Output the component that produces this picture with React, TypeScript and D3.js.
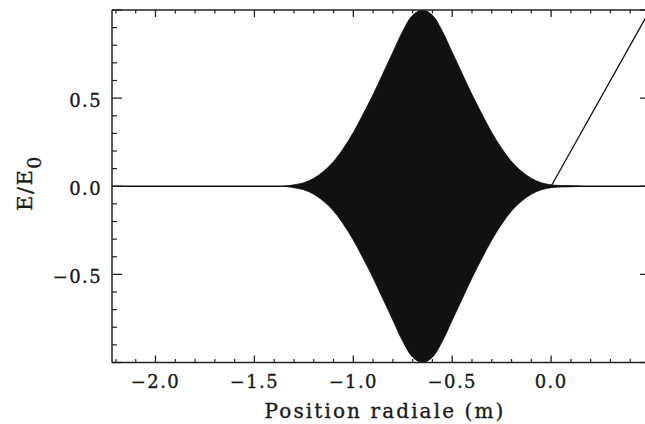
import React from "react";
import * as d3 from "d3";

// Envelope of the oscillating field (amplitude |E/E0|)
const envX = [-1.35, -1.30, -1.25, -1.20, -1.15, -1.10, -1.05, -1.00, -0.95, -0.90, -0.85, -0.80, -0.75, -0.70, -0.65, -0.60, -0.55, -0.50, -0.45, -0.40, -0.35, -0.30, -0.25, -0.20, -0.15, -0.10, -0.05, 0.00, 0.05, 0.10, 0.15];
const envA = [0.0, 0.008, 0.02, 0.045, 0.085, 0.14, 0.215, 0.305, 0.41, 0.52, 0.64, 0.76, 0.88, 0.97, 1.0, 0.97, 0.88, 0.76, 0.64, 0.52, 0.41, 0.305, 0.215, 0.14, 0.085, 0.045, 0.02, 0.008, 0.004, 0.003, 0.0];

// Zero baseline of the signal
const baseX = [-2.22, 0.5];
const baseY = [0.0, 0.0];

// Straight ramp line
const rampX = [0.0, 0.5];
const rampY = [0.0, 1.0];

const xMajor = [-2.0, -1.5, -1.0, -0.5, 0.0, 0.5];
const xLabels = ["\u22122.0", "\u22121.5", "\u22121.0", "\u22120.5", "0.0", ""];
const yMajor = [-1.0, -0.5, 0.0, 0.5, 1.0];
const yLabels = ["", "\u22120.5", "0.0", "0.5", ""];

const W = 645;
const H = 424;
const L = 112, R = 650, T = 10, B = 362.5;

export default function App() {
  const x = d3.scaleLinear().domain([-2.22, 0.5]).range([L, R]);
  const y = d3.scaleLinear().domain([-1, 1]).range([B, T]);

  const xMinor = d3.range(-22, 6).map((v) => v / 10).filter((v) => !xMajor.some((m) => Math.abs(m - v) < 1e-6));
  const yMinor = d3.range(-10, 11).map((v) => v / 10).filter((v) => !yMajor.some((m) => Math.abs(m - v) < 1e-6));

  const envData = envX.map((v, i) => ({ x: v, a: envA[i] }));
  const area = d3
    .area<{ x: number; a: number }>()
    .x((d) => x(d.x))
    .y0((d) => y(-d.a))
    .y1((d) => y(d.a))
    .curve(d3.curveCatmullRom.alpha(0.5));

  const line = d3
    .line<[number, number]>()
    .x((d) => x(d[0]))
    .y((d) => y(d[1]));

  const base: [number, number][] = baseX.map((v, i) => [v, baseY[i]]);
  const ramp: [number, number][] = rampX.map((v, i) => [v, rampY[i]]);

  const axisColor = "#222";
  const font = "'DejaVu Serif', serif";
  const textProps = { fontFamily: font, fill: "#1a1a1a", stroke: "#1a1a1a", strokeWidth: 0.35 };

  return (
    <svg
      width={W}
      height={H}
      style={{ position: "absolute", left: 0, top: 0, background: "#fff" }}
    >
      <defs>
        <clipPath id="plotclip">
          <rect x={L} y={T} width={R - L} height={B - T} />
        </clipPath>
      </defs>
      <g clipPath="url(#plotclip)">
        <path d={line(base) || ""} fill="none" stroke="#111" strokeWidth={1.6} />
        <path d={area(envData) || ""} fill="#111" stroke="#111" strokeWidth={0.8} />
        <path d={line(ramp) || ""} fill="none" stroke="#111" strokeWidth={1.3} />
      </g>

      {/* frame */}
      <line x1={L} x2={R} y1={T} y2={T} stroke={axisColor} strokeWidth={1.5} />
      <line x1={L} x2={R} y1={B} y2={B} stroke={axisColor} strokeWidth={1.5} />
      <line x1={L} x2={L} y1={T} y2={B} stroke={axisColor} strokeWidth={1.5} />
      <line x1={R} x2={R} y1={T} y2={B} stroke={axisColor} strokeWidth={1.5} />

      {/* x ticks bottom & top */}
      {xMajor.map((v) => (
        <g key={"xm" + v}>
          <line x1={x(v)} x2={x(v)} y1={B} y2={B - 7} stroke={axisColor} strokeWidth={1.3} />
          <line x1={x(v)} x2={x(v)} y1={T} y2={T + 7} stroke={axisColor} strokeWidth={1.3} />
        </g>
      ))}
      {xMinor.map((v) => (
        <g key={"xn" + v}>
          <line x1={x(v)} x2={x(v)} y1={B} y2={B - 3.5} stroke={axisColor} strokeWidth={1.2} />
          <line x1={x(v)} x2={x(v)} y1={T} y2={T + 3.5} stroke={axisColor} strokeWidth={1.2} />
        </g>
      ))}
      {/* y ticks left & right */}
      {yMajor.map((v) => (
        <g key={"ym" + v}>
          <line x1={L} x2={L + 10} y1={y(v)} y2={y(v)} stroke={axisColor} strokeWidth={1.3} />
          <line x1={R} x2={R - 10} y1={y(v)} y2={y(v)} stroke={axisColor} strokeWidth={1.3} />
        </g>
      ))}
      {yMinor.map((v) => (
        <g key={"yn" + v}>
          <line x1={L} x2={L + 5} y1={y(v)} y2={y(v)} stroke={axisColor} strokeWidth={1.2} />
          <line x1={R} x2={R - 5} y1={y(v)} y2={y(v)} stroke={axisColor} strokeWidth={1.2} />
        </g>
      ))}

      {/* tick labels */}
      {xMajor.map((v, i) => (
        <text key={"xl" + v} x={x(v)} y={388} textAnchor="middle" fontSize={18} letterSpacing={1.4} {...textProps}>
          {xLabels[i]}
        </text>
      ))}
      {yMajor.map((v, i) => (
        <text key={"yl" + v} x={102} y={y(v) + 9} textAnchor="end" fontSize={18} letterSpacing={1.4} {...textProps}>
          {yLabels[i]}
        </text>
      ))}

      {/* axis titles */}
      <text x={385} y={418} textAnchor="middle" fontSize={20} letterSpacing={2.1} {...textProps}>
        Position radiale (m)
      </text>
      <text transform="translate(32,183) rotate(-90)" textAnchor="middle" fontSize={21} letterSpacing={1.5} {...textProps}>
        E/E
        <tspan dy={9} fontSize={19}>0</tspan>
      </text>
    </svg>
  );
}
